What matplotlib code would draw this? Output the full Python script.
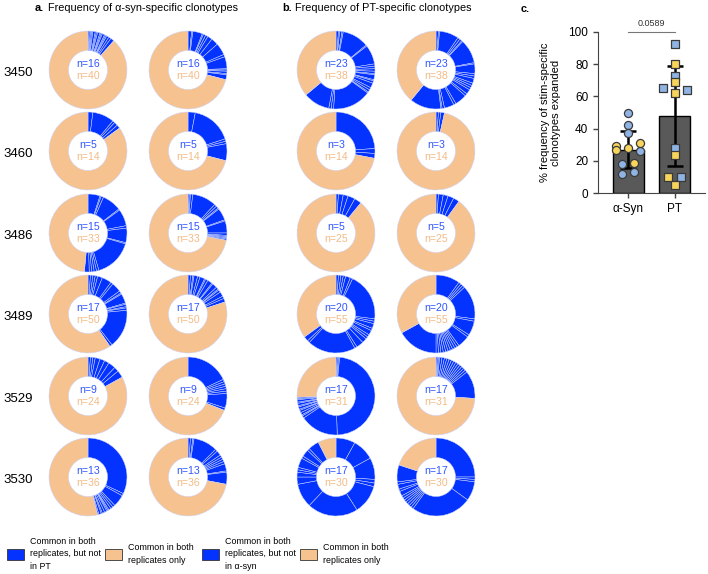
import matplotlib
matplotlib.use("Agg")
import matplotlib.pyplot as plt
from matplotlib.patches import Patch

plt.rcParams['font.family'] = ['Liberation Sans', 'DejaVu Sans']

donors = ["3450", "3460", "3486", "3489", "3529", "3530"]

# blue wedge sizes (% of ring), clockwise from 12 o'clock; rep1, rep2 for each donor
syn_slices = [
    [0.5, 0.5, 0.5, 0.5, 1, 0.5, 0.5, 1, 0.5, 0.5, 1, 0.5, 0.5, 1, 1, 1.5],
    [1.5, 0.5, 4, 0.5, 1, 1, 2, 3, 5, 1, 5, 0.5, 0.5, 1, 0.5, 2],
    [2, 9, 1, 1.5, 1.5],
    [3, 17, 1, 1, 7],
    [5, 0.5, 1, 8, 0.5, 7, 1, 6, 0.5, 16, 1, 1, 1, 1, 2],
    [0.5, 0.5, 1, 10, 1, 1, 0.5, 5, 0.5, 5, 1, 0.5, 0.5, 0.5, 0.5],
    [1, 1, 1, 1, 2, 4, 1, 4, 1, 0.5, 4, 0.5, 1, 0.5, 1, 16, 1],
    [1, 1, 0.5, 1.5, 1, 2, 0.5, 1, 2, 0.5, 2, 1, 0.5, 1, 2, 1, 1.5],
    [1, 1, 1, 2, 2, 2, 3, 2, 3],
    [18, 1, 1, 1, 1, 1, 1, 6, 1],
    [32, 1, 5, 1, 1, 1, 0.5, 0.5, 1, 1, 0.5, 1, 0.5],
    [1, 1, 0.5, 10, 1, 2, 1, 1, 1, 1, 3, 0.5, 5],
]
syn_n_blue = [16, 16, 5, 5, 15, 15, 17, 17, 9, 9, 13, 13]
syn_n_peach = [40, 40, 14, 14, 33, 33, 50, 50, 24, 24, 36, 36]

pt_slices = [
    [1, 0.5, 1, 0.5, 11, 0.5, 8, 1, 1, 1, 1, 0.5, 2, 0.5, 1, 2, 1, 1, 0.5, 16, 1, 1, 11],
    [1, 0.5, 8, 1, 1, 0.5, 10, 0.5, 4, 1, 1, 2, 1, 1, 1, 2, 1, 5, 1, 4, 1, 0.5, 13],
    [24, 2, 2],
    [1, 1, 1.5],
    [1, 2, 2, 3, 3],
    [1, 2, 2, 2.5, 2.5],
    [1, 1, 1, 1, 2, 1, 20, 1, 1, 2, 1, 2, 1, 1, 2, 3, 1, 20, 1, 2],
    [10, 1, 1, 1, 14, 1, 6, 1, 5, 1, 1, 1, 1, 1, 1, 1, 1, 1, 1, 17],
    [0.5, 0.5, 0.5, 48, 16, 1, 0.5, 1, 1, 0.5, 1, 0.5, 1, 0.5, 1, 0.5, 0.5],
    [0.5, 0.5, 0.5, 1, 1, 1, 1, 1, 1, 1, 1, 1, 1, 1, 1, 1, 11.5],
    [8, 9, 9, 1.5, 1.5, 12, 21, 10, 3, 2, 1, 1, 4, 1, 3, 1, 4.5],
    [25, 1, 1, 8, 25, 1, 1, 1, 1, 1, 1, 1, 2, 1, 2, 1, 7],
]
pt_n_blue = [23, 23, 3, 3, 5, 5, 20, 20, 17, 17, 17, 17]
pt_n_peach = [38, 38, 14, 14, 25, 25, 55, 55, 31, 31, 30, 30]

# panel c: % frequency of stim-specific clonotypes expanded
groups = ["α-Syn", "PT"]
means = [27, 48]
sds = [11.7, 31]
syn_blue = [49.5, 42, 37.4, 26, 18, 12, 13]
syn_blue_dx = [0, 0, 0, 0.26, -0.13, -0.13, 0.13]
syn_yellow = [29.3, 26.5, 28, 31, 18.7]
syn_yellow_dx = [-0.26, -0.26, 0, 0.26, 0.13]
pt_blue = [92.5, 72.8, 65, 64, 28, 10]
pt_blue_dx = [0, 0, -0.26, 0.26, 0, 0.13]
pt_yellow = [80, 69, 62.4, 23.5, 10, 5.2]
pt_yellow_dx = [0, 0, 0, 0, -0.15, 0]

BLUE = '#0433ff'
PEACH = '#f6c290'
W, H = 708, 574

fig = plt.figure(figsize=(W / 100, H / 100), dpi=100)

col_x = [88, 188, 336, 436]
row_y = [70, 151, 233, 314, 396, 477]
R = 39


def donut(cx, cy, blue, nb, npch):
    ax = fig.add_axes([(cx - 41) / W, 1 - (cy + 41) / H, 82 / W, 82 / H])
    vals = list(blue) + [100 - sum(blue)]
    cols = [BLUE] * len(blue) + [PEACH]
    ax.pie(vals, colors=cols, startangle=90, counterclock=False, radius=1,
           wedgeprops=dict(width=0.5, edgecolor='#c9d4ff', linewidth=0.35))
    lim = 41 / R
    ax.set_xlim(-lim, lim)
    ax.set_ylim(-lim, lim)
    ax.text(0, 0.16, f"n={nb}", ha='center', va='center', fontsize=7.6, color='#2f55ff')
    ax.text(0, -0.16, f"n={npch}", ha='center', va='center', fontsize=7.6, color='#f3bb85')


for i in range(6):
    for r in range(2):
        k = i * 2 + r
        donut(col_x[r], row_y[i], syn_slices[k], syn_n_blue[k], syn_n_peach[k])
        donut(col_x[2 + r], row_y[i], pt_slices[k], pt_n_blue[k], pt_n_peach[k])
    fig.text(3 / W, 1 - (row_y[i] + 3) / H, donors[i], fontsize=9.5, va='center', ha='left')

# titles
fig.text(35 / W, 1 - 8 / H, "a.", fontsize=7.8, fontweight='bold', va='center')
fig.text(48 / W, 1 - 8 / H, "Frequency of α-syn-specific clonotypes", fontsize=7.8, va='center')
fig.text(282 / W, 1 - 8 / H, "b.", fontsize=7.8, fontweight='bold', va='center')
fig.text(295 / W, 1 - 8 / H, "Frequency of PT-specific clonotypes", fontsize=7.8, va='center')
fig.text(521 / W, 1 - 9 / H, "c.", fontsize=7.8, fontweight='bold', va='center')

# panel c
ax = fig.add_axes([598 / W, 1 - 193 / H, 107 / W, 161 / H])
ax.bar([0, 1], means, width=0.67, color='#595959', edgecolor='black', linewidth=1, zorder=1)
ax.errorbar([0, 1], means, yerr=sds, fmt='none', ecolor='black', elinewidth=1.8,
            capsize=6, capthick=1.8, zorder=2)
mk = dict(s=34, edgecolors='#3a3a3a', linewidths=0.9, zorder=3)
ax.scatter([0 + d for d in syn_blue_dx], syn_blue, marker='o', color='#8fb4e3', **mk)
ax.scatter([0 + d for d in syn_yellow_dx], syn_yellow, marker='o', color='#f7d45c', **mk)
ax.scatter([1 + d for d in pt_blue_dx], pt_blue, marker='s', color='#8fb4e3', **mk)
ax.scatter([1 + d for d in pt_yellow_dx], pt_yellow, marker='s', color='#f7d45c', **mk)
ax.set_xlim(-0.66, 1.66)
ax.set_ylim(0, 100)
ax.set_yticks([0, 20, 40, 60, 80, 100])
ax.set_xticks([0, 1])
ax.set_xticklabels(groups)
ax.tick_params(labelsize=8.5, length=3.5, color='#444444', width=1)
for s in ['top', 'right']:
    ax.spines[s].set_visible(False)
for s in ['left', 'bottom']:
    ax.spines[s].set_color('#444444')
ax.set_ylabel("% frequency of stim-specific\nclonotypes expanded", fontsize=8, labelpad=5)
ax.plot([0, 1], [100, 100], color='#777777', lw=0.8, clip_on=False)
ax.text(0.5, 102.5, "0.0589", ha='center', va='bottom', fontsize=6.5, color='#333333')

# legends
plt.rcParams['text.antialiased'] = True
hb = Patch(facecolor=BLUE, edgecolor='#333333', linewidth=0.6)
hp = Patch(facecolor=PEACH, edgecolor='#333333', linewidth=0.6)
leg_kw = dict(loc='center left', ncol=2, frameon=False, fontsize=6.4,
              handlelength=1.9, handleheight=1.5, handletextpad=0.65,
              columnspacing=0.5, borderaxespad=0, borderpad=0, labelspacing=0)
for x0, other in [(7, "PT"), (202, "α-syn")]:
    leg = fig.legend([hb, hp], ["Common in both\nreplicates, but not\nin " + other,
                                "Common in both\nreplicates only"],
                     bbox_to_anchor=(x0 / W, 1 - 554 / H), **leg_kw)
    for t in leg.get_texts():
        t.set_linespacing(1.55)

fig.savefig("out.png", dpi=100)
